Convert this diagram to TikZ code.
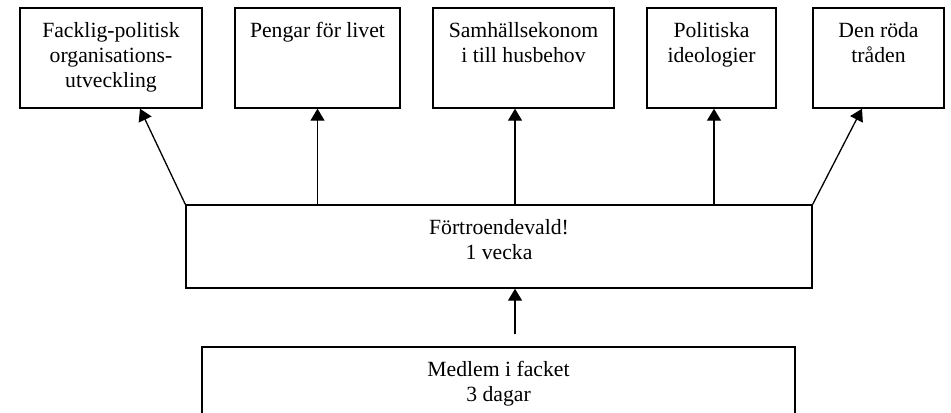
\documentclass[tikz,border=0pt]{standalone}
\usepackage{fontspec}
\setmainfont{Liberation Serif}
\usetikzlibrary{arrows.meta}

\begin{document}
\begin{tikzpicture}[x=0.5pt,y=-0.5pt,
                   ruta/.style={draw,line width=0.7pt,inner sep=0pt,minimum height=50pt},
                   txt/.style={anchor=north,align=center,inner sep=0pt,font=\fontsize{10.85}{12.5}\selectfont},
                   pil/.style={-{Triangle[length=6pt,width=7pt]},line width=0.65pt}]
\useasboundingbox (0,0) rectangle (951,412);
\clip (0,0) rectangle (951,412);
\node[ruta,minimum width=91pt] (t1) at (111,58) {};
\node[ruta,minimum width=82.5pt] (t2) at (317.5,58) {};
\node[ruta,minimum width=90.5pt] (t3) at (523.5,58) {};
\node[ruta,minimum width=64.5pt] (t4) at (711.5,58) {};
\node[ruta,minimum width=65.5pt] (t5) at (878.5,58) {};
\node[ruta,minimum width=313pt,minimum height=41.5pt] (mid) at (499,246.5) {};
\node[ruta,minimum width=296.5pt,minimum height=41.5pt] (bot) at (498.5,388.5) {};
\node[txt] (t1txt) at ([yshift=-7.5pt]t1.north) {Facklig-politisk\\organisations-\\utveckling};
\node[txt] (t2txt) at ([yshift=-7.5pt]t2.north) {Pengar för livet};
\node[txt] (t3txt) at ([yshift=-7.5pt]t3.north) {Samhällsekonom\\i till husbehov};
\node[txt] (t4txt) at ([yshift=-7.5pt]t4.north) {Politiska\\ideologier};
\node[txt] (t5txt) at ([yshift=-7.5pt]t5.north) {Den röda\\tråden};
\node[txt] (midtxt) at ([yshift=-7.25pt]mid.north) {Förtroendevald!\\1 vecka};
\node[txt] (bottxt) at ([yshift=-7.5pt]bot.north) {Medlem i facket\\3 dagar};
\draw[pil] (mid.north west) -- ([xshift=14.5pt]t1.south);
\draw[pil] (mid.north -| t2.south) -- (t2.south);
\draw[pil] ([xshift=-4.25pt]t3.south |- mid.north) -- ([xshift=-4.25pt]t3.south);
\draw[pil] ([xshift=1.25pt]t4.south |- mid.north) -- ([xshift=1.25pt]t4.south);
\draw[pil] (mid.north east) -- ([xshift=-8.25pt]t5.south);
\draw[pil] ([xshift=8.25pt,yshift=6pt]bot.north) -- ([xshift=8.25pt]bot.north |- mid.south);
\end{tikzpicture}
\end{document}
